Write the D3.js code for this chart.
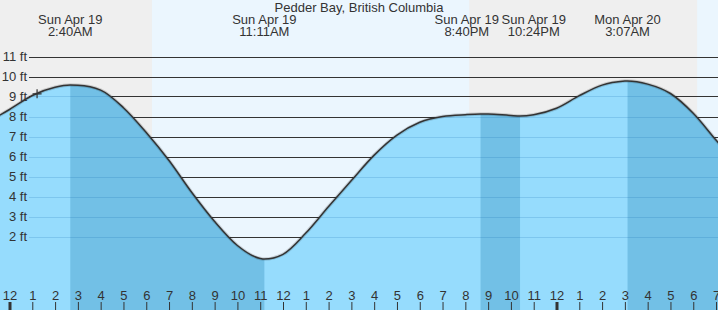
<!DOCTYPE html>
<html>
<head>
<meta charset="utf-8">
<script src="https://cdn.jsdelivr.net/npm/d3@7"></script>
<style>
    body { margin: 0; background: #fff; }
    svg { display: block; font-family: "Liberation Sans", Arial, sans-serif; }
</style>
</head>
<body>
<div class="chart"></div>
<script>
// hours since Sun midnight, tide height in ft
const hours = [-1, 0, 1, 2, 3, 4, 5, 6, 7, 8, 9, 10, 11, 12, 13, 14, 15, 16,
    17, 18, 19, 20, 21, 22, 23, 24, 25, 26, 27, 28, 29, 30, 31, 32]
const heights = [7.7, 8.35, 9.05, 9.46, 9.56, 9.32, 8.44, 7.2, 5.8, 4.2, 2.75, 1.55, 0.9, 1.11,
    2.17, 3.5, 4.8, 6.07, 7.07, 7.71, 8.0, 8.09, 8.12, 8.05, 8.09, 8.41, 9.04, 9.57,
    9.77, 9.62, 9.15, 8.16, 6.82, 5.5]

// high / low tides
const extremeTimes = [2.667, 11.183, 20.667, 22.4, 27.117]
const extremeHeights = [9.57, 0.87, 8.12, 8.03, 9.78]
const extremeDays = ['Sun Apr 19', 'Sun Apr 19', 'Sun Apr 19', 'Sun Apr 19', 'Mon Apr 20']
const extremeClock = ['2:40AM', '11:11AM', '8:40PM', '10:24PM', '3:07AM']

// daylight periods [sunrise, sunset]
const daylight = [[6.25, 20.17], [30.17, 44]]
const ftTicks = [2, 3, 4, 5, 6, 7, 8, 9, 10, 11]
const hourTicks = d3.range(0, 32)
const nowHour = 1.21
const title = 'Pedder Bay, British Columbia'

const width = 718
const height = 310

const x = d3.scaleLinear().domain([0, 24]).range([9.5, 556.5])
const y = d3.scaleLinear().domain([0, 11]).range([276.5, 56.5])

const svg = d3.select('.chart').append('svg')
    .attr('width', width)
    .attr('height', height)

// night / day background
svg.append('rect')
    .attr('width', width).attr('height', height)
    .attr('fill', '#efefef')
svg.selectAll('.day')
    .data(daylight)
    .enter()
    .append('rect')
    .attr('class', 'day')
    .attr('x', d => x(d[0]))
    .attr('width', d => x(d[1]) - x(d[0]))
    .attr('y', 0).attr('height', height)
    .attr('fill', '#ebf6fe')

// grid lines above water
svg.selectAll('.grid')
    .data(ftTicks)
    .enter()
    .append('line')
    .attr('class', 'grid')
    .attr('x1', 29).attr('x2', width)
    .attr('y1', d => Math.round(y(d)) + 0.5)
    .attr('y2', d => Math.round(y(d)) + 0.5)
    .attr('stroke', '#333')

// tide series incl. extremes
const points = hours.map((h, i) => [h, heights[i]])
    .concat(extremeTimes.map((t, i) => [t, extremeHeights[i]]))
    .sort((a, b) => a[0] - b[0])

const area = d3.area()
    .x(d => x(d[0]))
    .y0(height)
    .y1(d => y(d[1]))
    .curve(d3.curveMonotoneX)
const line = d3.line()
    .x(d => x(d[0]))
    .y(d => y(d[1]))
    .curve(d3.curveMonotoneX)

svg.append('clipPath')
    .attr('id', 'water')
    .append('path')
    .attr('d', area(points))

svg.append('path')
    .attr('d', area(points))
    .attr('fill', '#96dcfd')

// ebbing tide bands (high -> next low)
const ebbs = []
extremeTimes.forEach((t, i) => {
    const next = extremeTimes[i + 1]
    if (next === undefined) ebbs.push([t, 40])
    else if (extremeHeights[i] > extremeHeights[i + 1]) ebbs.push([t, next])
})
svg.append('g')
    .attr('clip-path', 'url(#water)')
    .selectAll('rect')
    .data(ebbs)
    .enter()
    .append('rect')
    .attr('x', d => x(d[0]))
    .attr('width', d => x(d[1]) - x(d[0]))
    .attr('y', 0).attr('height', height)
    .attr('fill', '#72c0e6')

// faint grid lines under water
svg.append('g')
    .attr('clip-path', 'url(#water)')
    .selectAll('line')
    .data(ftTicks)
    .enter()
    .append('line')
    .attr('x1', 29).attr('x2', width)
    .attr('y1', d => Math.round(y(d)) + 0.5)
    .attr('y2', d => Math.round(y(d)) + 0.5)
    .attr('stroke', 'rgba(0,90,160,0.16)')

svg.append('path')
    .attr('d', line(points))
    .attr('fill', 'none')
    .attr('stroke', 'rgba(0,0,0,0.15)')
    .attr('stroke-width', 3.5)
svg.append('path')
    .attr('d', line(points))
    .attr('fill', 'none')
    .attr('stroke', '#333')
    .attr('stroke-width', 1.5)

// y labels
svg.selectAll('.ylab')
    .data(ftTicks)
    .enter()
    .append('text')
    .attr('class', 'ylab')
    .attr('x', 27)
    .attr('y', d => y(d) + 4.5)
    .attr('text-anchor', 'end')
    .attr('font-size', 13)
    .attr('fill', '#333')
    .text(d => d + ' ft')

// current time marker
const cx = x(nowHour)
const cy = y(d3.interpolateNumber(9.05, 9.46)(nowHour - 1))
svg.append('path')
    .attr('d', `M${cx - 4.5},${cy}H${cx + 4.5}M${cx},${cy - 4.5}V${cy + 4.5}`)
    .attr('stroke', '#333')
    .attr('stroke-width', 1.2)

// hour axis
const axis = svg.append('g')
    .attr('transform', `translate(0,${height})`)
    .call(d3.axisTop(x)
        .tickValues(hourTicks)
        .tickSize(8)
        .tickPadding(2)
        .tickFormat(h => (h % 12) || 12))
axis.select('.domain').remove()
axis.selectAll('text')
    .attr('font-size', 13)
    .attr('font-family', '"Liberation Sans", Arial, sans-serif')
    .attr('fill', '#333')
axis.selectAll('line')
    .attr('stroke', '#333')
    .attr('stroke-width', d => d % 24 === 0 ? 3 : 1)

// title
svg.append('text')
    .attr('x', width / 2)
    .attr('y', 12)
    .attr('text-anchor', 'middle')
    .attr('font-size', 13)
    .attr('fill', '#333')
    .text(title)

// extreme labels, pushed apart when too close
const labelX = extremeTimes.map(t => x(t))
for (let i = 0; i < labelX.length - 1; i++) {
    const gap = labelX[i + 1] - labelX[i]
    if (gap < 67) {
        const mid = (labelX[i] + labelX[i + 1]) / 2
        labelX[i] = mid - 33.5
        labelX[i + 1] = mid + 33.5
    }
}
const labels = svg.selectAll('.ext')
    .data(extremeTimes)
    .enter()
    .append('text')
    .attr('class', 'ext')
    .attr('text-anchor', 'middle')
    .attr('font-size', 13)
    .attr('fill', '#333')
labels.append('tspan')
    .attr('x', (d, i) => labelX[i])
    .attr('y', 24)
    .text((d, i) => extremeDays[i])
labels.append('tspan')
    .attr('x', (d, i) => labelX[i])
    .attr('y', 36)
    .text((d, i) => extremeClock[i])
</script>
</body>
</html>
